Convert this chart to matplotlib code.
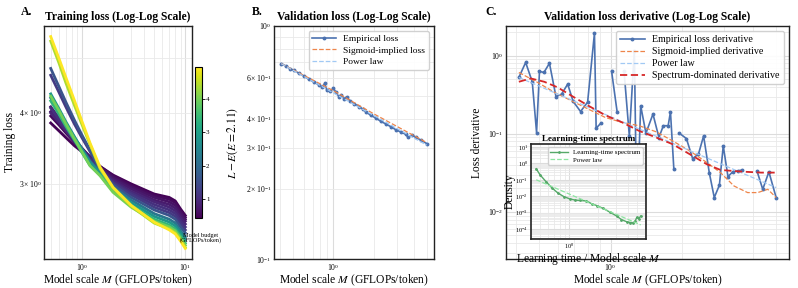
import numpy as np
import matplotlib
matplotlib.use('Agg')
import matplotlib.pyplot as plt
from matplotlib import cm, colors

plt.rcParams['font.family'] = 'serif'
plt.rcParams['font.serif'] = ['Liberation Serif', 'DejaVu Serif']
plt.rcParams['mathtext.fontset'] = 'stix'

nan = np.nan

# ---- panel A: training loss curves, one per model budget ----
scale_a = [0.5, 0.6, 0.7, 0.85, 1.0, 1.2, 1.5, 2.0, 3.0, 5.0, 7.0, 8.0, 9.0, 10.0]
budgets = [0.45, 0.55, 0.65, 0.75, 0.9, 1.05, 1.2, 1.6, 2.2, 2.8, 3.4, 4.0, 4.4, 4.95]
train_loss = [
    [3.84, 3.72, 3.62, 3.50, 3.42, 3.33, 3.22, 3.11, 3.00, 2.88, 2.84, 2.80, 2.71, 2.64],
    [3.95, 3.81, 3.69, 3.55, 3.45, 3.34, 3.22, 3.10, 2.98, 2.86, 2.82, 2.78, 2.69, 2.62],
    [4.02, 3.86, 3.73, 3.57, 3.46, 3.35, 3.21, 3.08, 2.96, 2.84, 2.79, 2.75, 2.67, 2.60],
    [4.10, 3.92, 3.77, 3.60, 3.47, 3.34, 3.20, 3.06, 2.94, 2.81, 2.76, 2.72, 2.64, 2.58],
    [4.00, 3.85, 3.72, 3.56, 3.45, 3.33, 3.19, 3.04, 2.91, 2.79, 2.73, 2.69, 2.61, 2.55],
    [4.08, 3.90, 3.75, 3.58, 3.45, 3.32, 3.18, 3.02, 2.89, 2.76, 2.70, 2.66, 2.58, 2.52],
    [4.66, 4.35, 4.10, 3.82, 3.62, 3.42, 3.18, 3.01, 2.87, 2.73, 2.67, 2.63, 2.55, 2.49],
    [4.79, 4.45, 4.18, 3.88, 3.66, 3.44, 3.17, 2.99, 2.84, 2.70, 2.64, 2.60, 2.52, 2.46],
    [4.25, 4.02, 3.83, 3.62, 3.46, 3.29, 3.15, 2.96, 2.81, 2.66, 2.60, 2.56, 2.48, 2.42],
    [4.32, 4.07, 3.86, 3.63, 3.45, 3.27, 3.13, 2.94, 2.78, 2.63, 2.57, 2.53, 2.46, 2.39],
    [4.20, 3.98, 3.79, 3.58, 3.41, 3.23, 3.11, 2.92, 2.75, 2.60, 2.54, 2.50, 2.43, 2.36],
    [4.28, 4.04, 3.83, 3.60, 3.42, 3.23, 3.10, 2.90, 2.73, 2.58, 2.52, 2.48, 2.41, 2.34],
    [5.35, 4.90, 4.52, 4.12, 3.82, 3.52, 3.19, 2.95, 2.74, 2.56, 2.50, 2.46, 2.39, 2.32],
    [5.45, 4.99, 4.62, 4.20, 3.87, 3.54, 3.21, 2.96, 2.75, 2.57, 2.49, 2.45, 2.38, 2.31],
]

# ---- panel B: validation loss ----
scale_b = [0.409, 0.441, 0.475, 0.509, 0.555, 0.604, 0.659, 0.718, 0.782, 0.828, 0.863, 0.893,
           0.945, 1.0, 1.04, 1.10, 1.135, 1.20, 1.26, 1.33, 1.43, 1.56, 1.67, 1.75, 1.90, 2.07,
           2.26, 2.46, 2.68, 2.92, 3.18, 3.47, 3.61, 3.89, 4.12, 4.49, 4.98]
val_loss = [0.689, 0.674, 0.656, 0.645, 0.626, 0.610, 0.590, 0.575, 0.558, 0.547, 0.567, 0.531,
            0.524, 0.540, 0.523, 0.497, 0.506, 0.488, 0.496, 0.477, 0.464, 0.451, 0.439, 0.428,
            0.414, 0.403, 0.390, 0.380, 0.370, 0.359, 0.351, 0.343, 0.333, 0.340, 0.333, 0.324, 0.313]
sig_scale_b = [0.409, 1.0, 2.0, 4.98]
sig_loss = [0.689, 0.528, 0.420, 0.316]
pow_scale_b = [0.409, 4.98]
pow_loss = [0.689, 0.308]

# ---- panel C: validation loss derivative ----
scale_c = [0.41, 0.438, 0.467, 0.487, 0.501, 0.523, 0.552, 0.588, 0.621, 0.659, 0.695, 0.747,
           0.80, 0.855, 0.869, 0.91, 0.96, 1.01, 1.066, 1.10, 1.14, 1.20, 1.26, 1.29, 1.34,
           1.41, 1.51, 1.60, 1.67, 1.75, 1.79, 1.85, 1.90, 1.95, 2.09, 2.22, 2.35, 2.47, 2.61,
           2.74, 2.88, 2.99, 3.13, 3.29, 3.45, 3.60, 3.87, 4.15, 4.39, 4.66, 5.0]
deriv = [0.527, 0.82, 0.464, 0.104, 0.63, 0.61, 0.80, 0.30, 0.322, 0.433, 0.26, 0.193,
         0.255, 1.95, 0.118, 0.137, nan, 0.63, 0.19, nan, 0.63, 0.094, 1.16, 0.008, 0.229,
         0.102, 0.179, 0.0897, 0.127, 0.127, 0.191, 0.0352, nan, 0.102, 0.087, 0.0483, 0.055,
         0.094, 0.0319, 0.0153, 0.022, 0.070, 0.0284, 0.0329, 0.0335, 0.0345, nan, 0.0335,
         0.0195, 0.0326, 0.0153]
smooth_scale_c = [0.41, 0.492, 0.58, 0.684, 0.806, 0.95, 1.12, 1.32, 1.56, 1.83, 2.16, 2.55,
                  2.91, 3.32, 3.79, 4.18, 4.61, 5.0]
sig_deriv = [0.61, 0.455, 0.339, 0.265, 0.207, 0.162, 0.140, 0.127, 0.106, 0.081, 0.0605,
             0.0429, 0.0319, 0.0215, 0.0177, 0.0177, 0.0195, 0.0153]
spec_scale_c = [0.41, 0.46, 0.525, 0.598, 0.684, 0.806, 0.95, 1.12, 1.32, 1.56, 1.83, 2.16,
                2.55, 2.91, 3.55, 4.32, 5.0]
spec_deriv = [0.464, 0.512, 0.464, 0.393, 0.307, 0.229, 0.173, 0.140, 0.109, 0.0897, 0.0736,
              0.0548, 0.0408, 0.0345, 0.0329, 0.0319, 0.0319]
pow_scale_c = [0.41, 5.0]
pow_deriv = [0.527, 0.0205]

# inset: learning-time spectrum
spec_time = [0.457, 0.50, 0.58, 0.66, 0.765, 0.88, 1.01, 1.15, 1.30, 1.50, 1.70, 1.95, 2.24,
             2.60, 3.08, 3.45, 3.90, 4.25, 4.57, 4.80, 4.95, 5.20, 5.45]
spec_density = [0.47, 0.20, 0.074, 0.033, 0.0155, 0.0095, 0.0069, 0.0058, 0.0055, 0.0052,
                0.0035, 0.0026, 0.0018, 0.0011, 6.2e-4, 3.8e-4, 2.8e-4, 2.5e-4, 2.4e-4,
                3.3e-4, 5.1e-4, 4.4e-4, 6.2e-4]
pow_time = [0.457, 5.45]
pow_density = [0.10, 1.8e-4]

W, H = 798, 288
fig = plt.figure(figsize=(W / 100, H / 100), dpi=100)

TITLE = 8.4
LABEL = 8.3


def box(x0, y0, w, h):
    return [x0 / W, 1 - (y0 + h) / H, w / W, h / H]


def style(ax, lab=5.5):
    ax.set_xscale('log')
    ax.set_yscale('log')
    ax.set_axisbelow(True)
    ax.grid(True, which='major', color='#dcdcdc', lw=0.8)
    ax.grid(True, which='minor', color='#e9e9e9', lw=0.6)
    ax.tick_params(which='both', labelsize=lab, length=0, pad=2)
    for s in ax.spines.values():
        s.set_color('#222222')
        s.set_linewidth(1.0)


blue = '#4c72b0'
orange = '#ee854a'
lblue = '#a1c9f4'
red = '#d62728'

# ---------------- A ----------------
axA = fig.add_axes(box(44, 26, 148, 233))
cmap = plt.get_cmap('viridis')
norm = colors.Normalize(vmin=0.43, vmax=4.96)
for b, ys in zip(budgets, train_loss):
    axA.plot(scale_a, ys, color=cmap(norm(b)), lw=2.0, solid_joinstyle='round')
style(axA)
axA.set_title('Training loss (Log-Log Scale)', fontsize=TITLE, fontweight='bold', pad=4)
axA.set_xlabel('Model scale $M$ (GFLOPs/token)', fontsize=LABEL, labelpad=0)
axA.set_ylabel('Training loss', fontsize=LABEL, labelpad=2)
cax = fig.add_axes(box(195, 67, 7, 151))
sm = cm.ScalarMappable(norm=norm, cmap=cmap)
cb = fig.colorbar(sm, cax=cax)
cb.set_ticks([1, 2, 3, 4])
cax.tick_params(labelsize=5, length=2, width=0.6, pad=1)
cb.outline.set_linewidth(0.8)
fig.text(201 / W, 1 - 238 / H, 'Model budget\n(GFLOPs/token)', fontsize=4.5,
         ha='center', va='center', linespacing=1.0)

# ---------------- B ----------------
axB = fig.add_axes(box(274, 26, 160, 233))
axB.plot(scale_b, val_loss, color=blue, marker='o', ms=1.8, lw=1.2, label='Empirical loss')
axB.plot(sig_scale_b, sig_loss, color=orange, ls='--', lw=0.9, label='Sigmoid-implied loss')
axB.plot(pow_scale_b, pow_loss, color=lblue, ls='--', lw=0.9, label='Power law')
style(axB)
axB.set_ylim(0.1, 1.0)
axB.set_title('Validation loss (Log-Log Scale)', fontsize=TITLE, fontweight='bold', pad=4)
axB.set_xlabel('Model scale $M$ (GFLOPs/token)', fontsize=LABEL, labelpad=0)
axB.set_ylabel('$L - E(E = 2.11)$', fontsize=LABEL, labelpad=4)
axB.legend(loc='upper right', fontsize=6.8, framealpha=0.9, edgecolor='#cccccc',
           borderpad=0.4, labelspacing=0.3, handlelength=2.5)

# ---------------- C ----------------
axC = fig.add_axes(box(506, 26, 283, 233))
axC.plot(scale_c, deriv, color=blue, marker='o', ms=1.8, lw=1.2, label='Empirical loss derivative')
axC.plot(smooth_scale_c, sig_deriv, color=orange, ls='--', lw=0.9, label='Sigmoid-implied derivative')
axC.plot(pow_scale_c, pow_deriv, color=lblue, ls='--', lw=0.9, label='Power law')
axC.plot(spec_scale_c, spec_deriv, color=red, ls='--', lw=1.3, dashes=(4, 2),
         label='Spectrum-dominated derivative')
style(axC)
axC.set_ylim(0.0025, 2.4)
axC.set_title('Validation loss derivative (Log-Log Scale)', fontsize=TITLE, fontweight='bold', pad=4)
axC.set_xlabel('Model scale $M$ (GFLOPs/token)', fontsize=LABEL, labelpad=0)
axC.set_ylabel('Loss derivative', fontsize=LABEL, labelpad=4)
axC.legend(loc='upper right', fontsize=7.2, framealpha=0.9, edgecolor='#cccccc',
           borderpad=0.4, labelspacing=0.3, handlelength=2.5)

axI = fig.add_axes(box(531, 144, 115, 95))
axI.plot(spec_time, spec_density, color='#55a868', marker='o', ms=1.0, lw=1.0,
         label='Learning-time spectrum')
axI.plot(pow_time, pow_density, color='#8de5a1', ls='--', lw=0.9, label='Power law')
style(axI, lab=4.5)
axI.set_ylim(2.5e-5, 15)
for s in axI.spines.values():
    s.set_linewidth(1.2)
axI.set_title('Learning-time spectrum', fontsize=6.5, fontweight='bold', pad=2)
axI.set_xlabel('Learning time / Model scale $M$', fontsize=LABEL, labelpad=0)
axI.set_ylabel('Density', fontsize=LABEL, labelpad=0)
axI.legend(loc='upper right', fontsize=5, framealpha=0.9, edgecolor='#cccccc',
           borderpad=0.3, labelspacing=0.2, handlelength=2.5)

fig.text(21 / W, 1 - 12 / H, 'A.', fontsize=8.5, fontweight='bold', va='center')
fig.text(252 / W, 1 - 12 / H, 'B.', fontsize=8.5, fontweight='bold', va='center')
fig.text(485 / W, 1 - 12 / H, 'C.', fontsize=8.5, fontweight='bold', va='center')

fig.savefig('out.png', dpi=100)
